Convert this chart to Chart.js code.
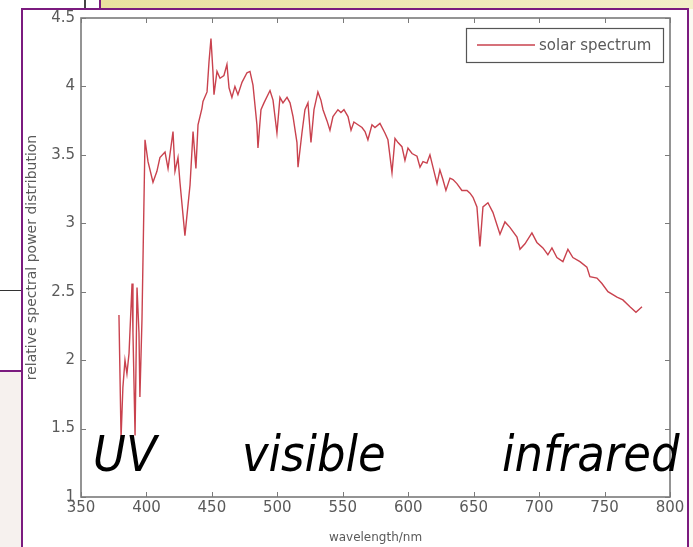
<!DOCTYPE html>
<html>
<head>
<meta charset="utf-8">
<script src="https://cdn.jsdelivr.net/npm/chart.js@4.4.1/dist/chart.umd.min.js"></script>
<style>
  html, body { margin: 0; padding: 0; background: #fff; }
  #wrap { position: relative; width: 693px; height: 547px; overflow: hidden; background: #fff; }
  .abs { position: absolute; }
  .band { position: absolute; font-family: "DejaVu Sans Condensed", "DejaVu Sans", sans-serif; font-stretch: condensed; font-style: italic; font-size: 50px; line-height: 50px; color: #000; white-space: nowrap; }
</style>
</head>
<body>
<div id="wrap">
  <!-- decorations around the frame -->
  <div class="abs" style="left:101px;top:0;width:592px;height:9px;background:linear-gradient(90deg,#e9e19f,#f3efc9);"></div>
  <div class="abs" style="left:84px;top:0;width:2px;height:9px;background:#444;"></div>
  <div class="abs" style="left:99px;top:0;width:2px;height:9px;background:#7b1b7f;"></div>
  <div class="abs" style="left:0;top:290px;width:21px;height:1px;background:#333;"></div>
  <div class="abs" style="left:0;top:372px;width:21px;height:175px;background:#f6f1ee;"></div>
  <div class="abs" style="left:0;top:370px;width:21px;height:2px;background:#7b1b7f;"></div>
  <div class="abs" style="left:689px;top:9px;width:4px;height:538px;background:#fbfaf3;"></div>
  <div class="abs" style="left:21px;top:8px;width:664px;height:539px;background:#fff;border-left:2px solid #7b1b7f;border-top:2px solid #7b1b7f;border-right:2px solid #7b1b7f;"></div>
  <canvas id="c" class="abs" width="693" height="547" style="left:0;top:0;width:693px;height:547px;"></canvas>
  <div class="band" style="left:93px;top:429px;">UV</div>
  <div class="band" style="left:242px;top:429px;">visible</div>
  <div class="band" style="left:502px;top:429px;">infrared</div>
</div>
<script>
const wavelength = [379,380.6,382,383.6,385.1,386.7,389,389.7,391.3,392.8,394.3,395,396.6,398.9,401.2,405,408,410.3,414.2,416.5,420.3,421.8,424.1,425.6,429.4,433.3,435.6,437.8,439.4,442.4,443.2,446.3,447.8,449.3,450.8,451.6,453.9,456.2,459.2,461.5,463.1,465.3,467.6,469.9,473,476.8,479.1,481.4,484.4,485.2,487.5,489.8,494.4,496.7,499.7,502,504.3,507.4,509.7,512,515,515.8,518.8,521.1,523.4,525.7,528,531,533.3,534.9,537.9,540.2,542.5,546.3,548.6,550.9,554,556.3,558.5,561.6,564.7,567,569.2,572.3,574.6,578.4,582.2,584.5,587.6,589.9,592.2,595.2,597.5,599.8,602.9,606.7,609,611.3,614.3,616.6,618.9,622,624.2,626.5,628.8,631.9,634.2,637.2,641,644.9,647.2,649.5,652.5,654.8,657.1,660.9,664.7,670.1,673.9,677.7,683.1,685.4,689.2,694.5,698.3,702.9,706.7,709.8,713.6,718.2,722,725.8,731.2,736.5,738.8,744.2,748,752.6,759.5,764,769.4,774,778.6];
const power = [2.33,1.43,1.8,2.0,1.9,2.05,2.56,2.2,1.45,2.53,2.2,1.73,2.3,3.61,3.45,3.30,3.38,3.48,3.52,3.40,3.67,3.38,3.48,3.30,2.91,3.28,3.67,3.40,3.72,3.84,3.89,3.96,4.18,4.35,4.11,3.94,4.11,4.06,4.08,4.16,3.99,3.92,4.00,3.94,4.03,4.10,4.11,4.01,3.72,3.55,3.83,3.88,3.97,3.90,3.66,3.92,3.88,3.92,3.88,3.78,3.59,3.41,3.66,3.83,3.88,3.59,3.83,3.96,3.90,3.83,3.75,3.68,3.78,3.83,3.81,3.83,3.78,3.68,3.74,3.72,3.70,3.67,3.61,3.72,3.70,3.73,3.66,3.61,3.37,3.62,3.59,3.56,3.46,3.55,3.51,3.49,3.41,3.45,3.44,3.50,3.41,3.29,3.39,3.32,3.24,3.33,3.32,3.29,3.24,3.24,3.22,3.19,3.12,2.83,3.12,3.15,3.08,2.92,3.01,2.97,2.90,2.81,2.85,2.93,2.86,2.82,2.77,2.82,2.75,2.72,2.81,2.75,2.72,2.68,2.61,2.60,2.56,2.50,2.46,2.44,2.39,2.35,2.39];
const xTicks = [350,400,450,500,550,600,650,700,750,800];
const yTicks = [1,1.5,2,2.5,3,3.5,4,4.5];
const seriesLabel = 'solar spectrum';
const xTitle = 'wavelength/nm';
const yTitle = 'relative spectral power distribution';

const lineColor = '#c9424e';
const axisColor = '#7a7a7a';
const textColor = '#5a5a5a';

const matlabBox = {
  id: 'matlabBox',
  afterDatasetsDraw(chart) {
    const {ctx, chartArea: a, scales: {x, y}} = chart;
    ctx.save();
    ctx.strokeStyle = axisColor;
    ctx.lineWidth = 1.6;
    ctx.strokeRect(a.left, a.top, a.right - a.left, a.bottom - a.top);
    ctx.lineWidth = 1;
    const tl = 5;
    ctx.beginPath();
    x.ticks.forEach(t => {
      const px = Math.round(x.getPixelForValue(t.value)) + 0.5;
      ctx.moveTo(px, a.bottom); ctx.lineTo(px, a.bottom - tl);
      ctx.moveTo(px, a.top); ctx.lineTo(px, a.top + tl);
    });
    y.ticks.forEach(t => {
      const py = Math.round(y.getPixelForValue(t.value)) + 0.5;
      ctx.moveTo(a.left, py); ctx.lineTo(a.left + tl, py);
      ctx.moveTo(a.right, py); ctx.lineTo(a.right - tl, py);
    });
    ctx.stroke();
    // legend box
    const lx = 466, ly = 28, lw = 197, lh = 34;
    ctx.fillStyle = '#fff';
    ctx.fillRect(lx, ly, lw, lh);
    ctx.strokeStyle = '#555';
    ctx.lineWidth = 1.2;
    ctx.strokeRect(lx + 0.5, ly + 0.5, lw, lh);
    const ds = chart.data.datasets[0];
    ctx.strokeStyle = ds.borderColor;
    ctx.lineWidth = 1.4;
    ctx.beginPath();
    ctx.moveTo(477, ly + lh / 2); ctx.lineTo(535, ly + lh / 2);
    ctx.stroke();
    ctx.fillStyle = textColor;
    ctx.font = '15px "DejaVu Sans", sans-serif';
    ctx.textBaseline = 'middle';
    ctx.textAlign = 'left';
    ctx.fillText(ds.label, 539, ly + lh / 2 + 1);
    ctx.restore();
  }
};

new Chart(document.getElementById('c'), {
  type: 'line',
  data: {
    datasets: [{
      label: seriesLabel,
      data: wavelength.map((w, i) => ({x: w, y: power[i]})),
      borderColor: lineColor,
      backgroundColor: lineColor,
      borderWidth: 1.4,
      pointRadius: 0,
      tension: 0,
      fill: false
    }]
  },
  options: {
    responsive: false,
    animation: false,
    events: [],
    layout: { padding: { left: 21, right: 23, top: 18, bottom: 0 } },
    plugins: { legend: { display: false }, tooltip: { enabled: false } },
    scales: {
      x: {
        type: 'linear', min: 350, max: 800,
        afterBuildTicks: s => { s.ticks = xTicks.map(v => ({value: v})); },
        afterFit: s => { s.height = 50; },
        ticks: { color: textColor, font: { family: 'DejaVu Sans', size: 15 }, padding: 2, autoSkip: false, maxRotation: 0, callback: v => String(v) },
        grid: { display: false, drawTicks: false },
        border: { display: false },
        title: { display: true, text: xTitle, color: textColor, font: { family: 'DejaVu Sans', size: 12 }, padding: { top: 0, bottom: 2 } }
      },
      y: {
        type: 'linear', min: 1, max: 4.5,
        afterBuildTicks: s => { s.ticks = yTicks.map(v => ({value: v})); },
        afterFit: s => { s.width = 60; },
        ticks: { color: textColor, font: { family: 'DejaVu Sans', size: 15 }, padding: 6, autoSkip: false, callback: v => String(v) },
        grid: { display: false, drawTicks: false },
        border: { display: false },
        title: { display: true, text: yTitle, color: textColor, font: { family: 'DejaVu Sans', size: 14 }, padding: { top: 3, bottom: 0 } }
      }
    }
  },
  plugins: [matlabBox]
});
</script>
</body>
</html>
